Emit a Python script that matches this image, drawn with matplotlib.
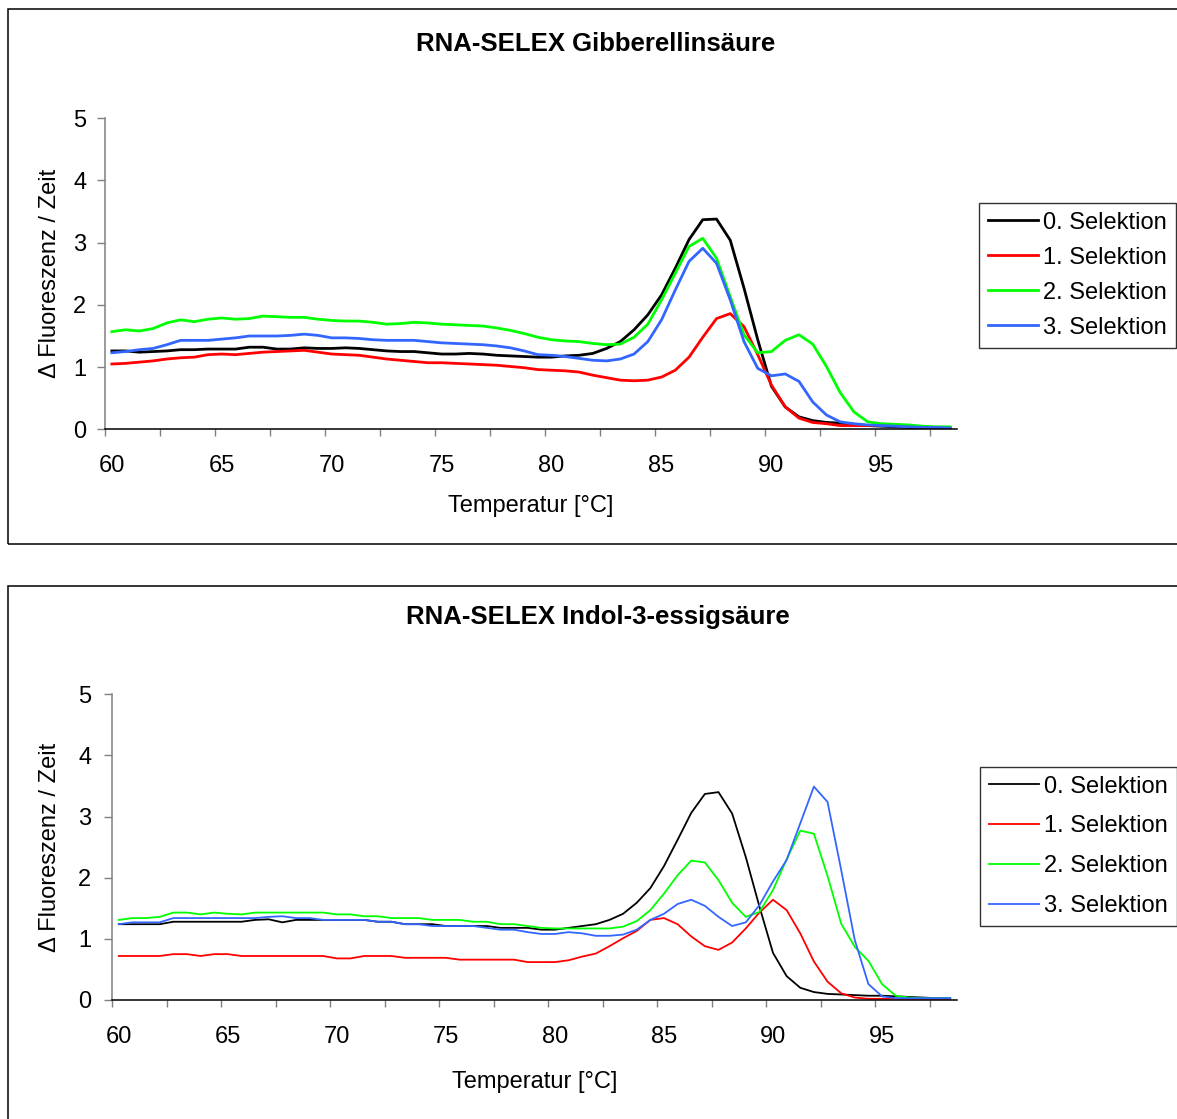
import numpy as np
import matplotlib
matplotlib.use("Agg")
import matplotlib.pyplot as plt
from matplotlib.patches import Rectangle

plt.rcParams["font.family"] = ["Liberation Sans", "DejaVu Sans"]

# category axis: temperature labels shown every 8th reading
x_labels = ["60", "65", "70", "75", "80", "85", "90", "95"]
series_names = ["0. Selektion", "1. Selektion", "2. Selektion", "3. Selektion"]
series_colors = ["#000000", "#FF0000", "#00FF00", "#3366FF"]

# RNA-SELEX Gibberellinsäure
gib_0 = [1.26, 1.26, 1.24, 1.25, 1.26, 1.28, 1.28, 1.29, 1.29, 1.29, 1.32, 1.32, 1.29, 1.29, 1.31, 1.30, 1.30, 1.31,
         1.30, 1.28, 1.26, 1.25, 1.25, 1.23, 1.21, 1.21, 1.22, 1.21, 1.19, 1.18, 1.17, 1.16, 1.16, 1.18,
         1.19, 1.22, 1.30, 1.41, 1.60, 1.84, 2.16, 2.59, 3.05, 3.37, 3.38, 3.04, 2.27, 1.44, 0.69, 0.36,
         0.20, 0.14, 0.11, 0.10, 0.08, 0.06, 0.05, 0.04, 0.03, 0.03, 0.02, 0.02]
gib_1 = [1.05, 1.06, 1.08, 1.10, 1.13, 1.15, 1.16, 1.20, 1.21, 1.20, 1.22, 1.24, 1.25, 1.26, 1.27, 1.24, 1.21, 1.20,
         1.19, 1.16, 1.13, 1.11, 1.09, 1.07, 1.07, 1.06, 1.05, 1.04, 1.03, 1.01, 0.99, 0.96, 0.95, 0.94,
         0.92, 0.87, 0.83, 0.79, 0.78, 0.79, 0.84, 0.95, 1.16, 1.48, 1.78, 1.86, 1.65, 1.20, 0.71, 0.36,
         0.18, 0.11, 0.09, 0.06, 0.06, 0.06, 0.07, 0.06, 0.04, 0.03, 0.02, 0.02]
gib_2 = [1.57, 1.60, 1.58, 1.62, 1.71, 1.76, 1.73, 1.77, 1.79, 1.77, 1.78, 1.82, 1.81, 1.80, 1.80, 1.77, 1.75, 1.74,
         1.74, 1.72, 1.69, 1.70, 1.72, 1.71, 1.69, 1.68, 1.67, 1.66, 1.63, 1.59, 1.54, 1.48, 1.44, 1.42,
         1.41, 1.38, 1.36, 1.37, 1.48, 1.69, 2.08, 2.51, 2.94, 3.07, 2.75, 2.13, 1.52, 1.23, 1.25, 1.43,
         1.52, 1.37, 1.01, 0.59, 0.28, 0.12, 0.09, 0.08, 0.07, 0.05, 0.04, 0.04]
gib_3 = [1.23, 1.25, 1.28, 1.30, 1.36, 1.43, 1.43, 1.43, 1.45, 1.47, 1.50, 1.50, 1.50, 1.51, 1.53, 1.51, 1.47, 1.47,
         1.46, 1.44, 1.43, 1.43, 1.43, 1.41, 1.39, 1.38, 1.37, 1.36, 1.34, 1.31, 1.26, 1.20, 1.19, 1.17,
         1.14, 1.11, 1.10, 1.13, 1.21, 1.41, 1.76, 2.24, 2.70, 2.91, 2.67, 2.08, 1.41, 0.98, 0.86, 0.89,
         0.77, 0.44, 0.23, 0.12, 0.09, 0.07, 0.06, 0.05, 0.04, 0.03, 0.03, 0.02]

# RNA-SELEX Indol-3-essigsäure
iaa_0 = [1.24, 1.24, 1.24, 1.24, 1.28, 1.28, 1.28, 1.28, 1.28, 1.28, 1.31, 1.32, 1.27, 1.31, 1.31, 1.31, 1.31,
         1.31, 1.31, 1.28, 1.28, 1.24, 1.24, 1.24, 1.21, 1.21, 1.21, 1.21, 1.18, 1.18, 1.18, 1.15, 1.15, 1.18,
         1.21, 1.24, 1.31, 1.41, 1.59, 1.83, 2.19, 2.62, 3.06, 3.37, 3.40, 3.05, 2.34, 1.53, 0.77, 0.39,
         0.20, 0.13, 0.10, 0.09, 0.08, 0.07, 0.07, 0.06, 0.05, 0.04, 0.03, 0.03]
iaa_1 = [0.72, 0.72, 0.72, 0.72, 0.75, 0.75, 0.72, 0.75, 0.75, 0.72, 0.72, 0.72, 0.72, 0.72, 0.72, 0.72, 0.68,
         0.68, 0.72, 0.72, 0.72, 0.69, 0.69, 0.69, 0.69, 0.66, 0.66, 0.66, 0.66, 0.66, 0.62, 0.62, 0.62, 0.65,
         0.71, 0.76, 0.88, 1.01, 1.13, 1.31, 1.34, 1.24, 1.04, 0.88, 0.82, 0.94, 1.17, 1.43, 1.64, 1.47,
         1.09, 0.63, 0.30, 0.11, 0.04, 0.02, 0.02, 0.02, 0.02, 0.02, 0.02, 0.02]
iaa_2 = [1.31, 1.34, 1.34, 1.36, 1.43, 1.43, 1.40, 1.43, 1.41, 1.40, 1.43, 1.43, 1.43, 1.43, 1.43, 1.43, 1.40,
         1.40, 1.37, 1.37, 1.34, 1.34, 1.34, 1.31, 1.31, 1.31, 1.28, 1.28, 1.24, 1.24, 1.21, 1.18, 1.17, 1.17,
         1.17, 1.17, 1.17, 1.20, 1.29, 1.47, 1.74, 2.04, 2.28, 2.25, 1.96, 1.59, 1.36, 1.44, 1.80, 2.30,
         2.77, 2.72, 2.03, 1.25, 0.87, 0.64, 0.26, 0.07, 0.04, 0.03, 0.03, 0.03]
iaa_3 = [1.24, 1.27, 1.27, 1.27, 1.34, 1.34, 1.34, 1.34, 1.34, 1.34, 1.34, 1.36, 1.37, 1.34, 1.34, 1.31, 1.31,
         1.31, 1.31, 1.28, 1.28, 1.24, 1.24, 1.21, 1.21, 1.21, 1.21, 1.18, 1.15, 1.15, 1.11, 1.08, 1.08, 1.11,
         1.09, 1.05, 1.05, 1.07, 1.15, 1.31, 1.41, 1.57, 1.64, 1.54, 1.36, 1.21, 1.27, 1.55, 1.94, 2.29,
         2.89, 3.49, 3.24, 2.13, 0.98, 0.26, 0.06, 0.03, 0.03, 0.03, 0.03, 0.03]

W, H = 1177, 1119
FS = 17


def px_rect(x0, y0, x1, y1):
    """pixel box (top-left origin) -> figure fraction [l, b, w, h]"""
    return [x0 / W, 1 - y1 / H, (x1 - x0) / W, (y1 - y0) / H]


def draw_panel(fig, rect, title, title_xy, series, lw, leg_xy, leg_spacing, ylab_x, xlab_y, ypad):
    ax = fig.add_axes(rect)
    n = len(series[0])
    for vals, name, col in zip(series, series_names, series_colors):
        ax.plot(range(n), vals, color=col, lw=lw, label=name)

    ax.set_xlim(-0.5, n - 0.5)
    ax.set_ylim(0, 5)
    ax.set_xticks(np.arange(0, n, 8))
    ax.set_xticklabels(x_labels)
    ax.set_xticks(np.arange(-0.5, n - 1, 4), minor=True)
    ax.set_yticks(range(6))
    ax.tick_params(axis="x", which="major", length=0, pad=18.5, labelsize=FS)
    ax.tick_params(axis="x", which="minor", length=5, width=1, color="#808080", direction="out")
    ax.tick_params(axis="y", length=5.5, width=1, color="#808080", pad=ypad, labelsize=FS)

    for s in ("top", "right"):
        ax.spines[s].set_visible(False)
    ax.spines["left"].set_color("#808080")
    ax.spines["left"].set_linewidth(1.1)
    ax.spines["bottom"].set_color("black")
    ax.spines["bottom"].set_linewidth(1.1)

    ax.set_ylabel("Δ Fluoreszenz / Zeit", fontsize=FS, va="center")
    ax.yaxis.set_label_coords(ylab_x, 0.5)
    ax.set_xlabel("Temperatur [°C]", fontsize=FS, va="center")
    ax.xaxis.set_label_coords(0.5, xlab_y)

    fig.text(title_xy[0] / W, 1 - title_xy[1] / H, title, fontsize=18.5, fontweight="bold",
             ha="center", va="center")

    leg = ax.legend(loc="upper left", bbox_to_anchor=(leg_xy[0] / W, 1 - leg_xy[1] / H),
                    bbox_transform=fig.transFigure, fontsize=FS, frameon=True, fancybox=False,
                    handlelength=2.1, handletextpad=0.25, borderpad=0.38, labelspacing=leg_spacing,
                    borderaxespad=0)
    leg.get_frame().set_edgecolor("black")
    leg.get_frame().set_linewidth(1.0)
    return ax


fig = plt.figure(figsize=(W / 100, H / 100), dpi=100)

# outer chart frames
fig.patches.append(Rectangle((8 / W, 1 - 544 / H), 1.1, (544 - 9) / H, transform=fig.transFigure,
                             fill=False, edgecolor="black", lw=1.1))
fig.patches.append(Rectangle((8 / W, -0.05), 1.1, (1119 - 586) / H + 0.05, transform=fig.transFigure,
                             fill=False, edgecolor="black", lw=1.1))

draw_panel(fig, px_rect(105, 118.3, 957, 429.3), "RNA-SELEX Gibberellinsäure", (596, 44),
           [gib_0, gib_1, gib_2, gib_3], 2.0, (979, 202.7), 0.55, -0.0646, -0.247, 8)
draw_panel(fig, px_rect(112, 694.3, 957, 1000), "RNA-SELEX Indol-3-essigsäure", (598, 617),
           [iaa_0, iaa_1, iaa_2, iaa_3], 1.3, (980, 766.7), 0.75, -0.0734, -0.268, 9.5)

fig.savefig("out.png", dpi=100)
